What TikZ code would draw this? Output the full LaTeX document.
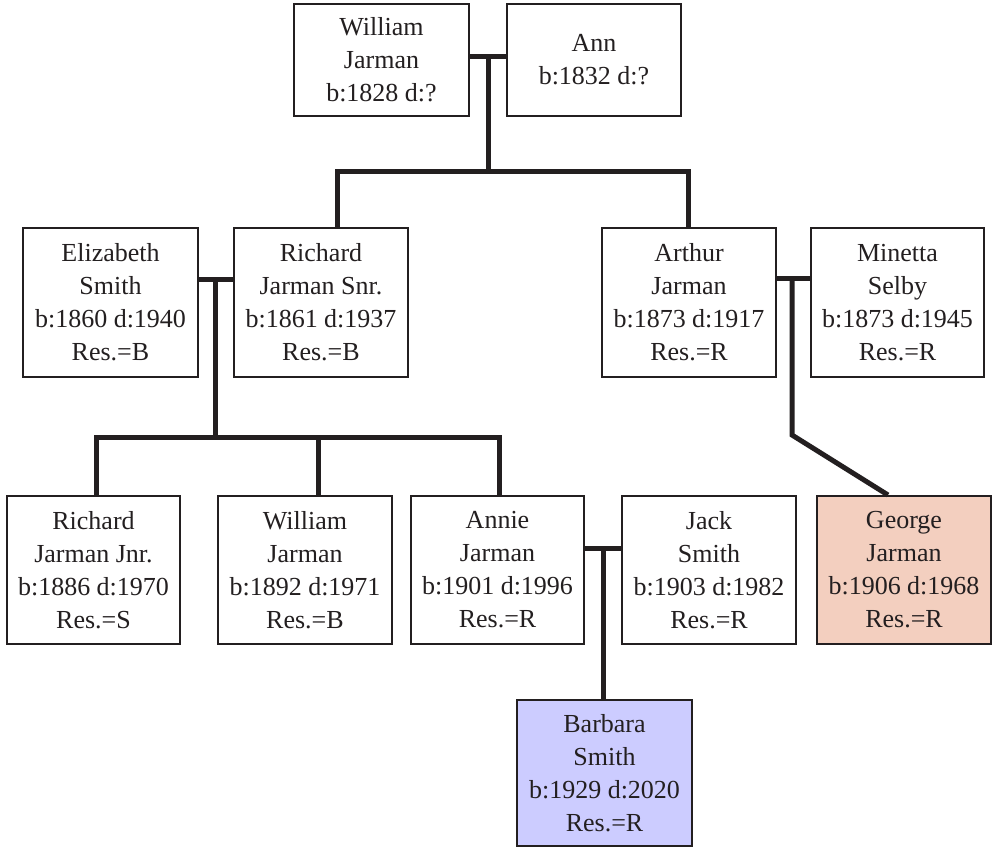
\documentclass[tikz,border=0pt]{standalone}
\usepackage{fontspec}
\setmainfont{Liberation Serif}
\definecolor{ink}{HTML}{231F20}
\definecolor{georgefill}{HTML}{F3CFBF}
\definecolor{barbfill}{HTML}{CCCCFF}
\begin{document}
\begin{tikzpicture}[x=1pt,y=-1pt,
  person/.style={draw=ink, line width=2pt, fill=white, inner sep=0pt,
    align=center, text=ink, font=\fontsize{26}{33}\selectfont},
  conn/.style={draw=ink, line width=5pt, line join=miter}]
\useasboundingbox (0,0) rectangle (994,848);
% row 1
\node[person, minimum width=175pt, minimum height=112pt] (wj) at (381.5,60) {William\\Jarman\\b:1828 d:?};
\node[person, minimum width=174pt, minimum height=112pt] (ann) at (594,60) {Ann\\b:1832 d:?};
% row 2
\node[person, minimum width=175pt, minimum height=149pt] (es) at (110.5,302.5) {Elizabeth\\Smith\\b:1860 d:1940\\Res.=B};
\node[person, minimum width=174pt, minimum height=149pt] (rs) at (321,302.5) {Richard\\Jarman Snr.\\b:1861 d:1937\\Res.=B};
\node[person, minimum width=174pt, minimum height=149pt] (aj) at (689,302.5) {Arthur\\Jarman\\b:1873 d:1917\\Res.=R};
\node[person, minimum width=173pt, minimum height=149pt] (ms) at (897.5,302.5) {Minetta\\Selby\\b:1873 d:1945\\Res.=R};
% row 3
\node[person, minimum width=173pt, minimum height=148pt] (rj) at (93.5,570) {Richard\\Jarman Jnr.\\b:1886 d:1970\\Res.=S};
\node[person, minimum width=174pt, minimum height=148pt] (wj2) at (305,570) {William\\Jarman\\b:1892 d:1971\\Res.=B};
\node[person, minimum width=173pt, minimum height=148pt] (an) at (497.5,570) {Annie\\Jarman\\b:1901 d:1996\\Res.=R};
\node[person, minimum width=174pt, minimum height=148pt] (js) at (709,570) {Jack\\Smith\\b:1903 d:1982\\Res.=R};
\node[person, fill=georgefill, minimum width=174pt, minimum height=148pt] (gj) at (904,570) {George\\Jarman\\b:1906 d:1968\\Res.=R};
% row 4
\node[person, fill=barbfill, minimum width=175pt, minimum height=146pt] (bs) at (604.5,773) {Barbara\\Smith\\b:1929 d:2020\\Res.=R};
% connectors: William & Ann
\coordinate (m1) at (488,57);
\coordinate (j1) at (488,172);
\coordinate (h1l) at (337,172);
\coordinate (h1r) at (688,172);
\draw[conn] (wj.east |- m1) -- (ann.west |- m1);
\draw[conn] (m1) -- (j1);
\draw[conn] (rs.north -| h1l) -- (h1l) -- (h1r) -- (aj.north -| h1r);
% Elizabeth & Richard
\coordinate (m2) at (215,279);
\coordinate (j2) at (215,437);
\coordinate (h2l) at (96,437);
\coordinate (h2m) at (318,437);
\coordinate (h2r) at (499,437);
\draw[conn] (es.east |- m2) -- (rs.west |- m2);
\draw[conn] (m2) -- (j2);
\draw[conn] (rj.north -| h2l) -- (h2l) -- (h2r) -- (an.north -| h2r);
\draw[conn] (h2m) -- (wj2.north -| h2m);
% Arthur & Minetta
\coordinate (m3) at (792,278);
\coordinate (k3) at (792,435);
\coordinate (g3) at (888,497);
\draw[conn] (aj.east |- m3) -- (ms.west |- m3);
\draw[conn] (m3) -- (k3) -- (gj.north -| g3);
% Annie & Jack
\coordinate (m4) at (603,548);
\draw[conn] (an.east |- m4) -- (js.west |- m4);
\draw[conn] (m4) -- (bs.north -| m4);
\end{tikzpicture}
\end{document}
